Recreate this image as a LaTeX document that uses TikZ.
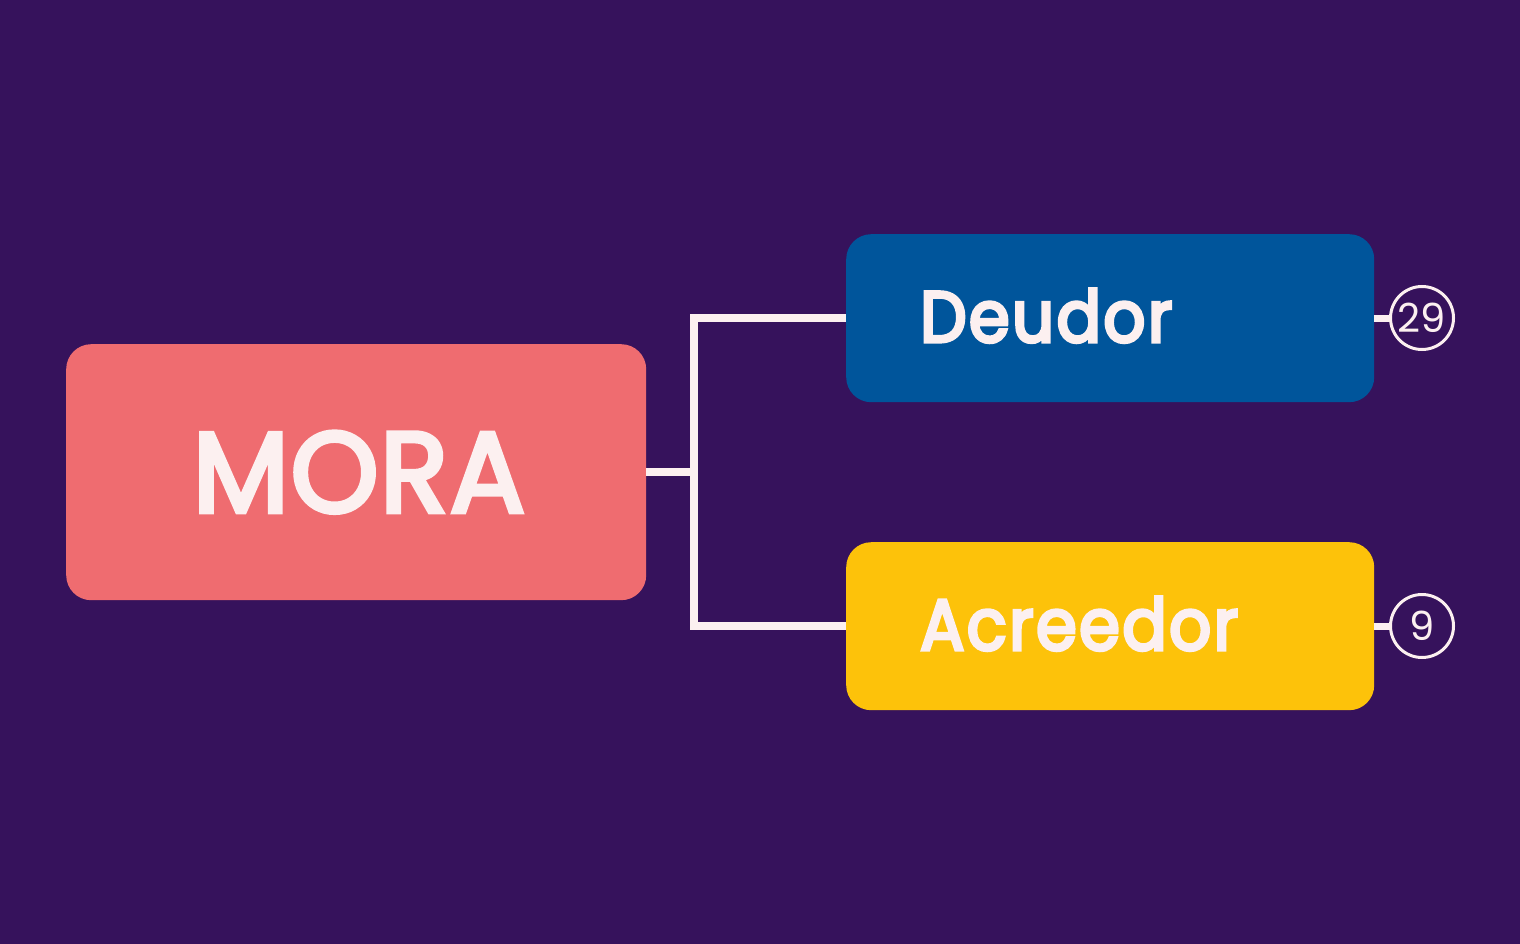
\documentclass[tikz,border=0pt]{standalone}
\usepackage{fontspec}
\setmainfont{Poppins}
\newfontfamily\popmed[FakeBold=4, FakeStretch=0.98, LetterSpace=1.5]{Poppins}
\newfontfamily\popsemi[FakeBold=4.5, FakeStretch=0.91, LetterSpace=3.5]{Poppins}
\definecolor{bgpurple}{RGB}{54,18,92}
\definecolor{moracol}{RGB}{239,108,112}
\definecolor{deudorcol}{RGB}{0,85,155}
\definecolor{acrcol}{RGB}{253,194,10}
\definecolor{txtwhite}{RGB}{252,240,240}
\begin{document}
\begin{tikzpicture}[x=1pt,y=-1pt,
  box/.style={rounded corners=25pt, inner sep=0pt, anchor=north west},
  conn/.style={draw=txtwhite, line width=8pt},
  badge/.style={circle, draw=txtwhite, line width=3pt, minimum size=63pt, inner sep=0pt, text=txtwhite, font=\fontsize{40}{42}\selectfont}]
\fill[bgpurple] (0,0) rectangle (1520,944);
\useasboundingbox (0,0) rectangle (1520,944);
\node[box, fill=moracol, minimum width=580pt, minimum height=256pt] (mora) at (66,344) {};
\node[text=txtwhite, font=\fontsize{114}{120}\popmed, anchor=base, inner sep=0pt] (moratxt) at (359,512) {MORA};
\node[box, fill=deudorcol, minimum width=528pt, minimum height=168pt] (deudor) at (846,234) {};
\node[text=txtwhite, font=\fontsize{72}{76}\popsemi, anchor=base west, inner sep=0pt] (deudortxt) at (920,342) {Deudor};
\node[box, fill=acrcol, minimum width=528pt, minimum height=168pt] (acr) at (846,542) {};
\node[text=txtwhite, font=\fontsize{72}{76}\popsemi, anchor=base west, inner sep=0pt] (acrtxt) at (920,650) {Acreedor};
\coordinate (jmid) at (694,472);
\coordinate (jtop) at (694,318);
\coordinate (jbot) at (694,626);
\draw[conn] (mora.east |- jmid) -- (jmid);
\draw[conn, line cap=rect] (jtop) -- (jbot);
\draw[conn] (jtop) -- (deudor.west |- jtop);
\draw[conn] (jbot) -- (acr.west |- jbot);
\node[badge] (b1) at (1422,318) {29};
\node[badge] (b2) at (1422,626) {9};
\draw[conn, line width=7pt] (deudor.east |- b1) -- (b1.west);
\draw[conn, line width=7pt] (acr.east |- b2) -- (b2.west);
\end{tikzpicture}
\end{document}
